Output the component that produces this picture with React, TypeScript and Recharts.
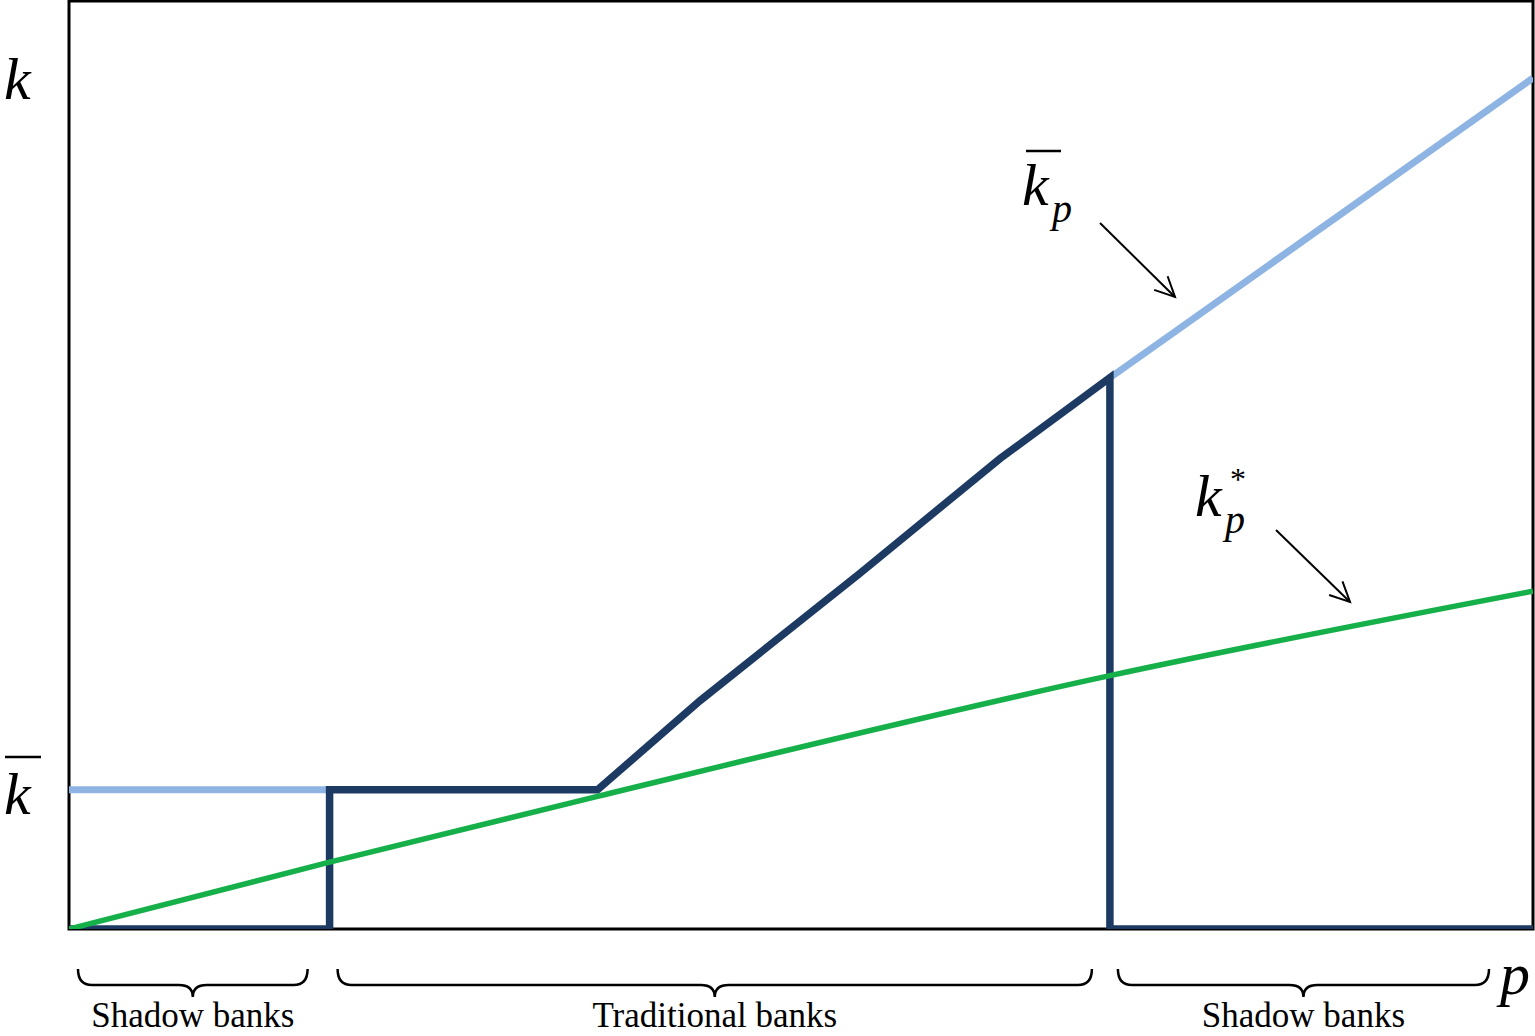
import { LineChart, Line, XAxis, YAxis, ReferenceArea } from "recharts";

// p on the horizontal axis, k on the vertical, both normalised to 0..1
const kBarLevel = [
  { p: 0, k: 0.15 },
  { p: 0.178, k: 0.15 },
];

const capitalPath = [
  { p: 0, k: 0 },
  { p: 0.178, k: 0 },
  { p: 0.178, k: 0.15 },
  { p: 0.361, k: 0.15 },
  { p: 0.431, k: 0.246 },
  { p: 0.54, k: 0.383 },
  { p: 0.636, k: 0.507 },
  { p: 0.711, k: 0.594 },
  { p: 0.711, k: 0 },
  { p: 1, k: 0 },
];

const kBarP = [
  { p: 0.711, k: 0.594 },
  { p: 1, k: 0.917 },
];

const kStarP = [
  { p: 0, k: 0 },
  { p: 0.178, k: 0.072 },
  { p: 0.361, k: 0.143 },
  { p: 0.711, k: 0.273 },
  { p: 1, k: 0.364 },
];

// brace spans, with the gaps left at either end in px
const regions = [
  { label: "Shadow banks", from: 0, to: 0.178, padL: 9, padR: 22 },
  { label: "Traditional banks", from: 0.178, to: 0.711, padL: 8, padR: 18 },
  { label: "Shadow banks", from: 0.711, to: 1, padL: 8, padR: 44 },
];

const W = 1535;
const H = 1036;
const M = { top: 1, right: 2, left: 69, bottom: 107 };
const PW = W - M.left - M.right;
const px = (p: number) => M.left + p * PW;

const NAVY = "#1d3a62";
const LIGHT = "#8eb4e3";
const GREEN = "#16b04a";
const SERIF = '"Liberation Serif", "Times New Roman", serif';

function Brace({ x1, x2, label }: { x1: number; x2: number; label: string }) {
  const y0 = 969;
  const y1 = 985;
  const y2 = 997;
  const r = 14;
  const mid = (x1 + x2) / 2;
  const d = `M ${x1} ${y0} Q ${x1} ${y1} ${x1 + r} ${y1} L ${mid - r} ${y1} Q ${mid} ${y1} ${mid} ${y2} Q ${mid} ${y1} ${mid + r} ${y1} L ${x2 - r} ${y1} Q ${x2} ${y1} ${x2} ${y0}`;
  return (
    <g>
      <path d={d} fill="none" stroke="#000" strokeWidth={2.5} />
      <text x={mid} y={1027} textAnchor="middle" fontSize={35} fontFamily={SERIF} fill="#000">
        {label}
      </text>
    </g>
  );
}

function Arrow({ x1, y1, x2, y2 }: { x1: number; y1: number; x2: number; y2: number }) {
  const a = Math.atan2(y2 - y1, x2 - x1);
  const h = 22;
  const s = 0.45;
  const ax = x2 - h * Math.cos(a - s);
  const ay = y2 - h * Math.sin(a - s);
  const bx = x2 - h * Math.cos(a + s);
  const by = y2 - h * Math.sin(a + s);
  return (
    <g stroke="#000" strokeWidth={2} fill="none">
      <line x1={x1} y1={y1} x2={x2} y2={y2} />
      <polyline points={`${ax},${ay} ${x2},${y2} ${bx},${by}`} />
    </g>
  );
}

export default function App() {
  return (
    <div style={{ position: "absolute", left: 0, top: 0, width: W, height: H, background: "#fff" }}>
      <LineChart width={W} height={H} margin={M}>
        <XAxis type="number" dataKey="p" domain={[0, 1]} allowDataOverflow hide />
        <YAxis type="number" dataKey="k" domain={[0, 1]} allowDataOverflow hide />
        <ReferenceArea x1={0} x2={1} y1={0} y2={1} fill="none" fillOpacity={0} stroke="#000" strokeWidth={3} />
        <Line data={kBarLevel} dataKey="k" type="linear" stroke={LIGHT} strokeWidth={7} dot={false} isAnimationActive={false} />
        <Line data={kBarP} dataKey="k" type="linear" stroke={LIGHT} strokeWidth={7} dot={false} isAnimationActive={false} />
        <Line
          data={capitalPath}
          dataKey="k"
          type="linear"
          stroke={NAVY}
          strokeWidth={7.5}
          strokeLinejoin="miter"
          dot={false}
          isAnimationActive={false}
        />
        <Line data={kStarP} dataKey="k" type="monotone" stroke={GREEN} strokeWidth={5.5} dot={false} isAnimationActive={false} />
      </LineChart>
      <svg width={W} height={H} style={{ position: "absolute", left: 0, top: 0, pointerEvents: "none" }}>
        <g fontFamily={SERIF} fontStyle="italic" fill="#000">
          <text x={4} y={99} fontSize={60}>k</text>
          <text x={4} y={814} fontSize={60}>k</text>
          <line x1={5} y1={757} x2={41} y2={757} stroke="#000" strokeWidth={2.5} />
          <text x={1022} y={205} fontSize={60}>k</text>
          <line x1={1026} y1={151} x2={1061} y2={151} stroke="#000" strokeWidth={2.5} />
          <text x={1052} y={222} fontSize={40}>p</text>
          <text x={1195} y={516} fontSize={60}>k</text>
          <text x={1230} y={490} fontSize={32} fontStyle="normal">*</text>
          <text x={1225} y={533} fontSize={40}>p</text>
          <text x={1500} y={994} fontSize={60}>p</text>
        </g>
        <Arrow x1={1100} y1={223} x2={1175} y2={297} />
        <Arrow x1={1276} y1={530} x2={1350} y2={602} />
        {regions.map((r, i) => (
          <Brace key={i} x1={px(r.from) + r.padL} x2={px(r.to) - r.padR} label={r.label} />
        ))}
      </svg>
    </div>
  );
}
